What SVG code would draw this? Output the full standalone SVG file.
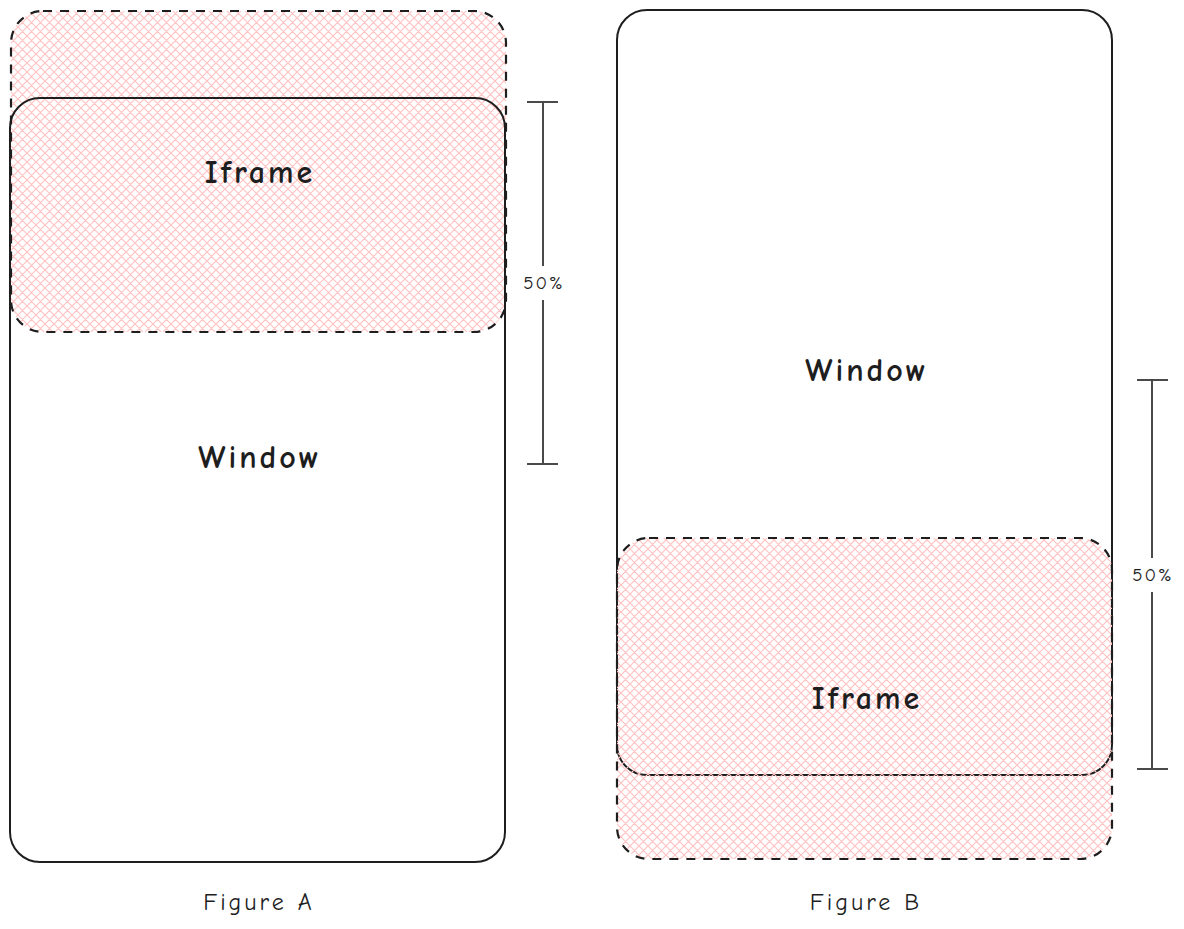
<svg xmlns="http://www.w3.org/2000/svg" width="1184" height="929" viewBox="0 0 1184 929">
<style>
.win{fill:none;stroke:#1e1e1e;stroke-width:2}
.ifr{fill:url(#hatch);stroke:#1e1e1e;stroke-width:2.2;stroke-dasharray:9 8}
.meas{stroke:#4a4a4a;stroke-width:2;fill:none}
.lbl{font-family:"Comic Neue","Liberation Sans",sans-serif;fill:#1e1e1e;text-anchor:middle;dominant-baseline:central;font-weight:700}
.big{font-size:32px;letter-spacing:3px}
.mid{font-size:24px;letter-spacing:3px;font-weight:400}
.sm{font-size:19px;letter-spacing:2px;font-weight:400}
</style>
<defs>
<pattern id="hatch" patternUnits="userSpaceOnUse" width="9" height="9">
<path d="M0,0 L9,9 M9,0 L0,9 M-1,8 L1,10 M8,-1 L10,1 M-1,1 L1,-1 M8,10 L10,8" stroke="#ffc2c2" stroke-width="1.2"/>
</pattern>
</defs>
<rect width="1184" height="929" fill="#ffffff"/>
<g id="figA-iframe">
<rect class="ifr" x="11" y="11" width="495" height="321" rx="32"/>
<text class="lbl big" x="260" y="172">Iframe</text>
</g>
<g id="figA-window">
<rect class="win" x="10" y="98" width="495" height="764" rx="30"/>
<text class="lbl big" x="260" y="457">Window</text>
</g>
<g id="figB-window">
<rect class="win" x="617" y="10" width="495" height="765" rx="30"/>
<text class="lbl big" x="867" y="370">Window</text>
</g>
<g id="figB-iframe">
<rect class="ifr" x="617" y="538" width="495" height="321" rx="32"/>
<text class="lbl big" x="867" y="698">Iframe</text>
</g>
<g id="connectors">
<path class="meas" d="M527,102 H558 M543,102 V266 M543,300 V464 M527,464 H558"/>
<path class="meas" d="M1137,380 H1168 M1152,380 V558 M1152,592 V769 M1137,769 H1168"/>
</g>
<g id="measA-label"><text class="lbl sm" x="544" y="283">50%</text></g>
<g id="measB-label"><text class="lbl sm" x="1153" y="575">50%</text></g>
<g id="captionA"><text class="lbl mid" x="259" y="902">Figure A</text></g>
<g id="captionB"><text class="lbl mid" x="866" y="902">Figure B</text></g>
</svg>
